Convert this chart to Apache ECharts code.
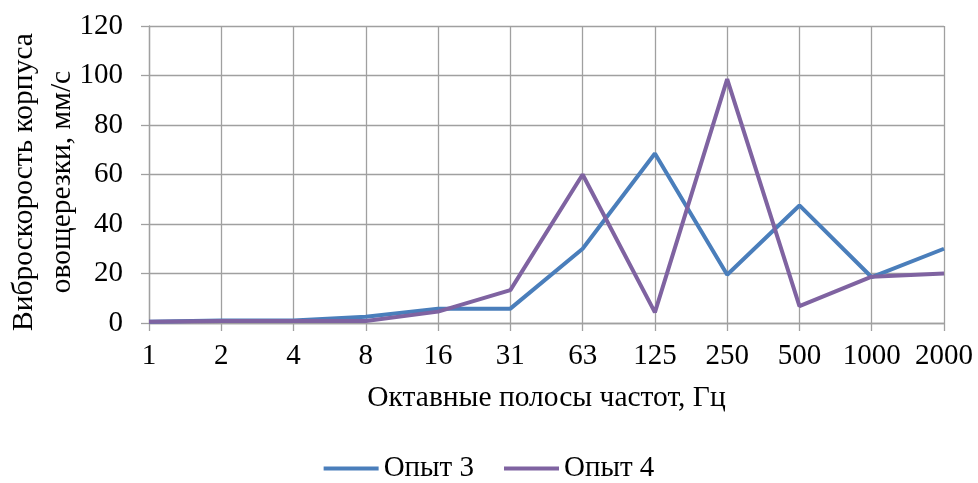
<!DOCTYPE html>
<html><head><meta charset="utf-8">
<script src="https://cdn.jsdelivr.net/npm/echarts@6/dist/echarts.min.js"></script>
<style>html,body{margin:0;padding:0;background:#fff}#c{width:978px;height:483px}</style>
</head><body><div id="c"></div>
<script>
const categories = ['1','2','4','8','16','31','63','125','250','500','1000','2000'];
const opyt3 = [0.5, 1, 1, 2.5, 5.8, 5.8, 30, 68.5, 19.5, 47.5, 18.5, 30];
const opyt4 = [0.5, 0.8, 0.8, 0.8, 4.6, 13.3, 60, 4.3, 98.5, 6.8, 18.7, 20];
const yTicks = {min: 0, max: 120, interval: 20};
const seriesNames = ['Опыт 3', 'Опыт 4'];
const xTitle = 'Октавные полосы частот, Гц';
const yTitle = 'Виброскорость корпуса\nовощерезки, мм/с';
const colors = ['#4a7ebb', '#7f63a1'];
const font = 'Liberation Serif, Times New Roman, serif';
const chart = echarts.init(document.getElementById('c'));
chart.setOption({
  animation: false,
  textStyle: {fontFamily: font},
  grid: {left: 149, right: 34, top: 26, bottom: 160, containLabel: false, outerBoundsMode: 'none'},
  legend: {
    bottom: -5, left: 'center', itemWidth: 55, itemHeight: 4, itemGap: 30,
    icon: 'rect',
    textStyle: {fontFamily: font, fontSize: 29, color: '#000'},
    data: seriesNames
  },
  graphic: [{
    type: 'text', x: 43, y: 182, rotation: Math.PI / 2,
    style: {text: yTitle, fontFamily: font, fontSize: 29.5, fill: '#000', lineHeight: 38,
            textAlign: 'center', textVerticalAlign: 'middle', align: 'center', verticalAlign: 'middle'}
  }],
  xAxis: {
    type: 'category', data: categories, boundaryGap: false,
    name: xTitle, nameLocation: 'middle', nameGap: 60,
    nameTextStyle: {fontFamily: font, fontSize: 29.5, color: '#000'},
    axisLine: {lineStyle: {color: '#a0a0a0', width: 1.3}},
    axisTick: {show: true, length: 8, interval: 0, lineStyle: {color: '#a0a0a0', width: 1.3}},
    axisLabel: {fontFamily: font, fontSize: 29, color: '#000', margin: 19, interval: 0, hideOverlap: false},
    splitLine: {show: true, interval: 0, lineStyle: {color: '#a0a0a0', width: 1.3}}
  },
  yAxis: {
    type: 'value', min: yTicks.min, max: yTicks.max, interval: yTicks.interval,
    axisLine: {show: true, lineStyle: {color: '#a0a0a0', width: 1.3}},
    axisTick: {show: true, length: 8, lineStyle: {color: '#a0a0a0', width: 1.3}},
    axisLabel: {fontFamily: font, fontSize: 29, color: '#000', margin: 26},
    splitLine: {show: true, lineStyle: {color: '#a0a0a0', width: 1.3}}
  },
  series: [
    {name: seriesNames[0], type: 'line', data: opyt3, symbol: 'none', lineStyle: {width: 4, color: colors[0]}, itemStyle: {color: colors[0]}},
    {name: seriesNames[1], type: 'line', data: opyt4, symbol: 'none', lineStyle: {width: 4, color: colors[1]}, itemStyle: {color: colors[1]}}
  ]
});
</script></body></html>
